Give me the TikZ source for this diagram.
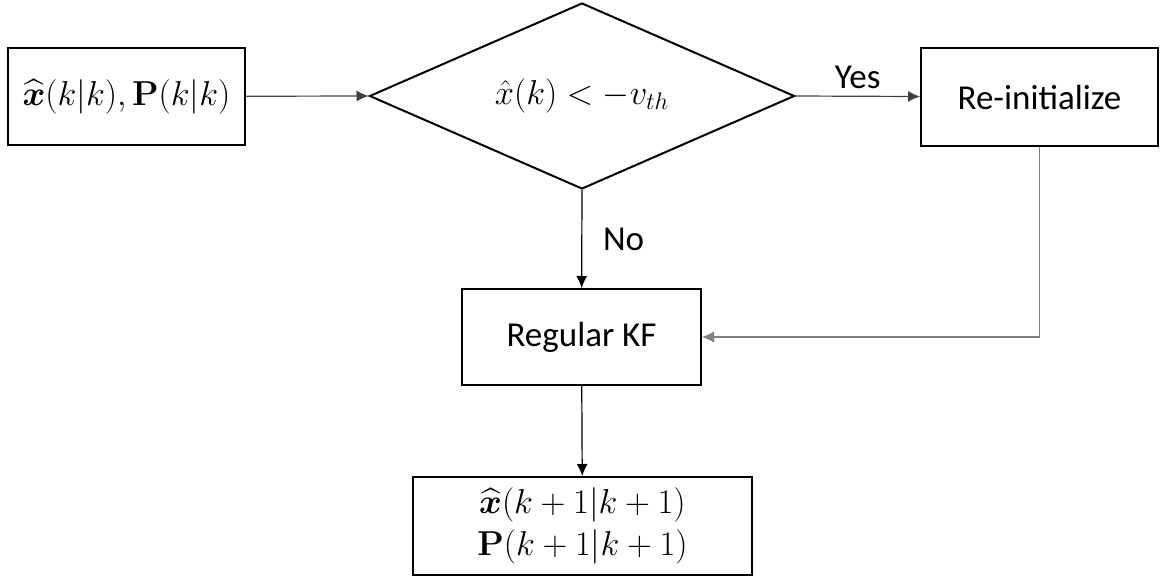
\documentclass[tikz,border=0pt]{standalone}
\usepackage{amsmath}
\usepackage[no-math]{fontspec}
\setmainfont{Carlito}
\usetikzlibrary{shapes.geometric,arrows.meta}

\begin{document}
\begin{tikzpicture}[x=0.5pt,y=-0.5pt,
        every node/.style={font=\fontsize{17.5}{21}\selectfont},
        box/.style={rectangle,draw,line width=1pt,inner sep=0pt,align=center},
        arr/.style={-{Latex[length=6pt,width=5.5pt]},line width=0.6pt,black!75}]
            \useasboundingbox (0,0) rectangle (1164,578);

            \begin{scope}
                \node [box,minimum width=118.5pt,minimum height=48.5pt] (init) at (126.5,96.5) {$\widehat{\boldsymbol{x}}(k|k),\mathbf{P}(k|k)$};
                \node [diamond,draw,line width=1pt,inner sep=0pt,aspect=2.28,minimum width=212.5pt,minimum height=93pt] (test) at (582,96) {$\hat{x}(k) < -v_{th}$};
                \node [box,minimum width=118.5pt,minimum height=49pt] (reinit) at (1039.5,97) {Re-initialize};
                \node [box,minimum width=119.5pt,minimum height=48pt] (kf) at (581.5,337) {Regular KF};
                \node [box,minimum width=169.5pt,minimum height=49pt] (out) at (582.5,526) {$\widehat{\boldsymbol{x}}(k+1|k+1)$\\$\mathbf{P}(k+1|k+1)$};
            \end{scope}

            \begin{scope}
                \path [arr] (init) edge (test.west);
                \path [arr] (test.east) edge node [above=0pt,black] {Yes} (reinit);
                \path [arr,black] (test.south) edge node [right=7pt] {No} (kf);
                \draw [arr,gray] (reinit.south) |- (kf.east);
                \path [arr,black] (kf) edge (out);
            \end{scope}
            \end{tikzpicture}
\end{document}
